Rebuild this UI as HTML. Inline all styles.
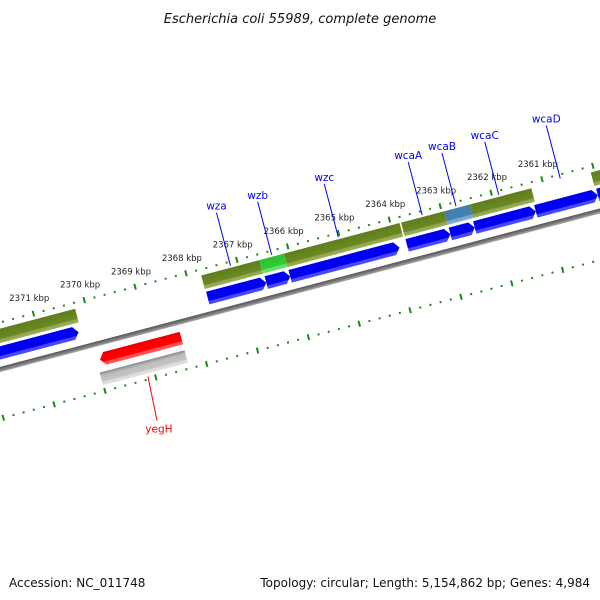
<!DOCTYPE html>
<html><head><meta charset="utf-8">
<style>
html,body{margin:0;padding:0;background:#fff;}
svg{display:block;font-family:"DejaVu Sans","Liberation Sans",sans-serif;}
</style></head>
<body>
<svg id="map" width="600" height="600" viewBox="0 0 600 600" xmlns="http://www.w3.org/2000/svg">
<defs>
<linearGradient id="gBlue" x1="0" y1="0" x2="0" y2="1"><stop offset="0" stop-color="#0000f0"/><stop offset="0.72" stop-color="#0000f0"/><stop offset="0.74" stop-color="#4444ff"/><stop offset="1" stop-color="#4a4aff"/></linearGradient>
<linearGradient id="gRed" x1="0" y1="0" x2="0" y2="1"><stop offset="0" stop-color="#e00000"/><stop offset="0.25" stop-color="#ff0000"/><stop offset="0.72" stop-color="#ff0000"/><stop offset="0.74" stop-color="#ff4a4a"/><stop offset="1" stop-color="#ff5a5a"/></linearGradient>
<linearGradient id="gOlive" x1="0" y1="0" x2="0" y2="1"><stop offset="0" stop-color="#5f7d1c"/><stop offset="0.72" stop-color="#6b8a23"/><stop offset="0.74" stop-color="#8da44c"/><stop offset="1" stop-color="#9ab05a"/></linearGradient>
<linearGradient id="gGreen" x1="0" y1="0" x2="0" y2="1"><stop offset="0" stop-color="#2fbf2f"/><stop offset="0.72" stop-color="#33cc33"/><stop offset="0.74" stop-color="#66dd66"/><stop offset="1" stop-color="#70e070"/></linearGradient>
<linearGradient id="gSteel" x1="0" y1="0" x2="0" y2="1"><stop offset="0" stop-color="#3f7fb0"/><stop offset="0.72" stop-color="#4682b4"/><stop offset="0.74" stop-color="#7aa6cc"/><stop offset="1" stop-color="#84acd0"/></linearGradient>
<linearGradient id="gGray" x1="0" y1="0" x2="0" y2="1"><stop offset="0" stop-color="#8a8a8a"/><stop offset="0.3" stop-color="#bdbdbd"/><stop offset="0.72" stop-color="#c4c4c4"/><stop offset="0.74" stop-color="#dadada"/><stop offset="1" stop-color="#e0e0e0"/></linearGradient>
<linearGradient id="gBack" x1="0" y1="0" x2="0" y2="1"><stop offset="0" stop-color="#555"/><stop offset="0.5" stop-color="#777"/><stop offset="1" stop-color="#aaa"/></linearGradient>
</defs>
<text x="300" y="23" text-anchor="middle" font-size="13" font-style="italic" fill="#111">Escherichia coli 55989, complete genome</text>
<g id="track" transform="translate(0,370) rotate(-14.8)"></g>
<g id="labels"></g>
<text x="9" y="587" font-size="12" fill="#111">Accession: NC_011748</text>
<text x="590" y="587" text-anchor="end" font-size="12" fill="#111">Topology: circular; Length: 5,154,862 bp; Genes: 4,984</text>
</svg>
<script>
// data (kbp)
const fwdStarts = [2372.6, 2367.72, 2366.57, 2366.10, 2363.80, 2362.95, 2362.47, 2361.27, 2360.05];
const fwdEnds   = [2370.26, 2366.57, 2366.10, 2363.95, 2362.95, 2362.47, 2361.27, 2360.05, 2358.5];
const fwdNames  = ["", "wza", "wzb", "wzc", "wcaA", "wcaB", "wcaC", "wcaD", ""];
const bandStarts = [2372.6, 2367.73, 2366.59, 2366.10, 2363.80, 2362.95, 2362.45, 2360.07];
const bandEnds   = [2370.21, 2366.59, 2366.10, 2363.83, 2362.95, 2362.45, 2361.24, 2358.5];
const bandKinds  = ["olive", "olive", "green", "olive", "olive", "steel", "olive", "olive"];
const revStarts = [2370.0];
const revEnds   = [2368.4];
const revNames  = ["yegH"];
const grayStarts = [2370.07];
const grayEnds   = [2368.40];
const tickLabels = [2371, 2370, 2369, 2368, 2367, 2366, 2365, 2364, 2363, 2362, 2361];
const lowerTickShift = 0.06;

const NS = "http://www.w3.org/2000/svg";
const S = Math.sin(14.8*Math.PI/180), C = Math.cos(14.8*Math.PI/180);
const U = k => 46.7 + (2371 - k) * 52.6;
const P = (k, v) => { const u = U(k); return [u*C + v*S, 370 - u*S + v*C]; };
const track = document.getElementById('track');
const labels = document.getElementById('labels');
const fills = {olive:'url(#gOlive)', green:'url(#gGreen)', steel:'url(#gSteel)'};

function mk(tag, attrs, parent){ const e=document.createElementNS(NS,tag); for(const a in attrs) e.setAttribute(a,attrs[a]); parent.appendChild(e); return e; }

const bb = mk('rect',{x:-50,y:-3,width:800,height:5,fill:'url(#gBack)'},track);



function ticks(v, shift, nameBase){
  for(let i=0;i<=70;i++){
    const k = 2373 - i*0.2 + shift;
    const major = (i % 5) === 0;
    const u = U(k);
    const t = mk('rect',{x:u-1, y: major ? v-3 : v-1, width:2, height: major?6:2, fill:'#1a8a1a'},track);
    
    
  }
}
ticks(-46, 0, 'upper-scale-tick');
ticks(47, lowerTickShift, 'lower-scale-tick');

for(let i=0;i<bandStarts.length;i++){
  const u1=U(bandStarts[i]), u2=U(bandEnds[i]);
  const r = mk('rect',{x:u1,y:-40,width:u2-u1,height:14,fill:fills[bandKinds[i]]},track);
  
  
}
function arrow(k1,k2,top,h,fill,right){
  const u1=U(k1), u2=U(k2), m=top+h/2, a=5;
  let pts;
  if(right) pts=[[u1,top],[u2-a,top],[u2,m],[u2-a,top+h],[u1,top+h]];
  else pts=[[u2,top],[u1+a,top],[u1,m],[u1+a,top+h],[u2,top+h]];
  return mk('polygon',{points:pts.map(p=>p.join(',')).join(' '),fill:fill},track);
}
for(let i=0;i<fwdStarts.length;i++){
  const g = arrow(fwdStarts[i], fwdEnds[i], -23, 13, 'url(#gBlue)', true);
  
  
}
for(let i=0;i<revStarts.length;i++){
  const g = arrow(revStarts[i], revEnds[i], 9, 13, 'url(#gRed)', false);
  
  
}
for(let i=0;i<grayStarts.length;i++){
  const u1=U(grayStarts[i]), u2=U(grayEnds[i]);
  const r = mk('rect',{x:u1,y:28,width:u2-u1,height:13,fill:'url(#gGray)'},track);
  
  
}

for(const k of tickLabels){
  const p = P(k, -62);
  const t = mk('text',{x:p[0].toFixed(1), y:(p[1]+3).toFixed(1), 'text-anchor':'middle','font-size':8.5,fill:'#222'},labels);
  t.textContent = k + ' kbp';
  
  
}
for(let i=0;i<fwdNames.length;i++){
  if(!fwdNames[i]) continue;
  const mid=(fwdStarts[i]+fwdEnds[i])/2;
  const p=P(mid,-42);
  const q=[p[0]-14,p[1]-53];
  const l=mk('line',{x1:p[0],y1:p[1],x2:q[0],y2:q[1],stroke:'#0000ff','stroke-width':1},labels);
  
  
  const t=mk('text',{x:q[0],y:q[1]-3,'text-anchor':'middle','font-size':10.5,fill:'#0000ff'},labels);
  t.textContent=fwdNames[i];
  
  
}
for(let i=0;i<revNames.length;i++){
  const mid=(revStarts[i]+revEnds[i])/2;
  const p=P(mid,44);
  const q=[p[0]+9,p[1]+44];
  const l=mk('line',{x1:p[0],y1:p[1],x2:q[0],y2:q[1],stroke:'#ff0000','stroke-width':1},labels);
  
  
  const t=mk('text',{x:q[0]+2,y:q[1]+12,'text-anchor':'middle','font-size':10.5,fill:'#ff0000'},labels);
  t.textContent=revNames[i];
  
  
}
</script>
</body></html>
